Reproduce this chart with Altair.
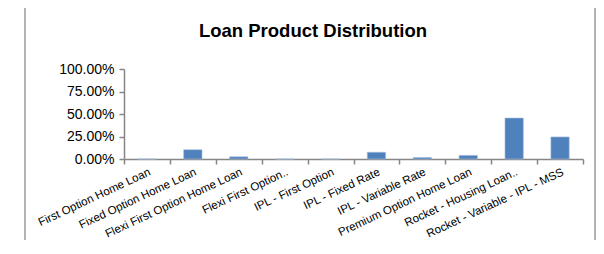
import altair as alt
import pandas as pd

categories = [
    "First Option Home Loan",
    "Fixed Option Home Loan",
    "Flexi First Option Home Loan",
    "Flexi First Option..",
    "IPL - First Option",
    "IPL - Fixed Rate",
    "IPL - Variable Rate",
    "Premium Option Home Loan",
    "Rocket - Housing Loan..",
    "Rocket - Variable - IPL - MSS",
]
shares = [0.0, 0.103, 0.025, 0.0, 0.0, 0.075, 0.017, 0.040, 0.455, 0.245]
y_ticks = [0.0, 0.25, 0.5, 0.75, 1.0]
title_text = "Loan Product Distribution"

df = pd.DataFrame({"product": categories, "share": shares})
one = pd.DataFrame({"t": [title_text]})

FONT = "Liberation Sans"
AXIS_GREY = "#868686"

bars = alt.Chart(df).mark_bar(
    color="#4F81BD", stroke="#A7C0DE", strokeWidth=0.6,
    width=alt.RelativeBandSize(0.4)
).encode(
    x=alt.X("product:N", sort=categories, title=None,
            scale=alt.Scale(paddingInner=0, paddingOuter=0),
            axis=alt.Axis(labelAngle=335, labelAlign="right", labelBaseline="top",
                          labelPadding=2, tickBand="extent", tickSize=5,
                          labelFont=FONT, labelFontSize=11.5, labelColor="#000000",
                          domainColor=AXIS_GREY, tickColor=AXIS_GREY,
                          domainWidth=1.5, tickWidth=1.5, labelOverlap=False,
                          labelLimit=0)),
    y=alt.Y("share:Q", title=None,
            scale=alt.Scale(domain=[0, 1], nice=False),
            axis=alt.Axis(values=y_ticks, format=".2%", grid=False, tickSize=5,
                          labelPadding=5, labelFont=FONT, labelFontSize=14,
                          labelColor="#000000", domainColor=AXIS_GREY,
                          tickColor=AXIS_GREY, domainWidth=1.5, tickWidth=1.5)),
)

frame = alt.Chart(one).mark_rect(
    fill=None, fillOpacity=0, stroke="#9a9a9a", strokeWidth=1.5
).encode(
    x=alt.value(-99), x2=alt.value(471), y=alt.value(-64), y2=alt.value(300)
)

title = alt.Chart(one).mark_text(
    font=FONT, fontSize=18.5, fontWeight="bold", color="#000000",
    align="center", baseline="alphabetic"
).encode(
    x=alt.value(189), y=alt.value(-32), text="t:N"
)

chart = alt.layer(frame, bars, title).properties(
    width=459, height=90,
    autosize=alt.AutoSizeParams(type="none"),
    padding={"left": 116, "top": 61, "right": 13, "bottom": 81},
).configure(background="white").configure_view(stroke=None)

chart.save("out.html", embed_options={"renderer": "svg", "actions": False})
